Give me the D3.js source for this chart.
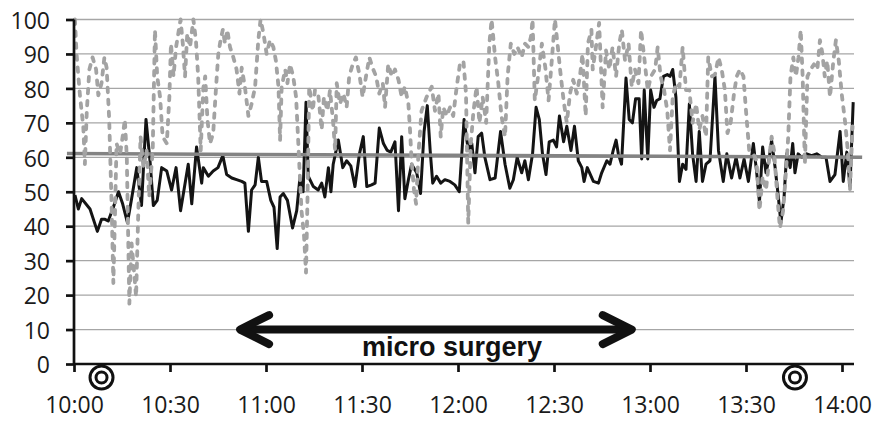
<!DOCTYPE html>
<html>
<head>
<meta charset="utf-8">
<script src="https://cdn.jsdelivr.net/npm/d3@7"></script>
<style>
  body { margin: 0; background: #fff; }
  svg { display: block; font-family: "Open Sans", sans-serif; }
</style>
</head>
<body>
<script>
// minutes after 10:00
const blackTimes = [0.3, 1.35, 2.4, 5, 7.3, 8.6, 9.7, 10.7, 12.3, 13.9, 15.2, 16.7, 18, 19.6, 21.1, 22.5, 23.75, 24.8, 26, 27.4, 29, 30.5, 31.9, 33.3, 35.7, 36.8, 38.3, 39.9,
  40.4, 42, 43.5, 45, 46.5, 47.7, 49.3, 50.8, 52.4, 53.4, 54.5, 55.5, 56.6, 57.6, 58.6, 60.2, 61.5, 62.5, 63.5, 64.4, 65.4, 66.7, 68.3, 69.6, 70.6, 71.6, 72.5, 73.2, 74.8, 76.3, 77.4, 78.4, 79.5,
  80.3, 81, 82.6, 84, 85.2, 86.5, 87.8, 89.2, 90.4, 91.5, 93, 94.1, 95.4, 96.7, 97.9, 99, 100.3, 101.4, 102.4, 103.4, 104.5, 105.5, 107.1, 108.3, 109.4, 110.4, 111.3, 112.1, 113.3, 114.6, 115.9, 117.5, 119, 120.4,
  121.9, 123.2, 124.3, 125.3, 126.3, 127.4, 128.4, 130, 131.6, 133.3, 134.7, 136.2, 137.3, 138.5, 139.9, 140.9, 142, 143.3, 144.4, 145.4, 146.4, 147.5, 148.5, 149.8, 150.8, 151.7, 153, 154, 155.3, 156.4, 157.6, 158.7, 159.4, 160.4,
  162.3, 163.9, 164.9, 166.5, 167.5, 168.5, 169.4, 170.1, 171.1, 172.5, 173.5, 174.5, 175.5, 176.6, 177.4, 178.2, 179.3, 180.2, 181.25, 182.1, 183.1, 184.2, 185.4, 186.25, 187.1, 188.1, 189.2, 190.2, 191.25, 192.3, 193.3, 194.4, 195.4, 196.4, 197.5, 198.75, 200.3, 201.4,
  202.9, 204, 205.5, 206.9, 208.1, 209.4, 210.75, 212.3, 213.3, 214.2, 215.2, 216.25, 217.3, 218, 219.1, 220.1, 220.9, 221.9, 222.7, 223.8, 224.6, 225.3, 226.3, 227.4, 229, 230.5, 232.1, 233.7, 235, 236.25, 237.8, 239.4, 240.4, 241.5, 242.5, 243.5];
const blackValues = [49, 45, 48, 45, 38.5, 42, 42, 41.5, 45.5, 50, 46.5, 41, 48, 57, 46, 71, 59, 46, 47.5, 57, 56, 50.5, 57, 44.5, 58, 46.5, 63, 52.5,
  57, 54.5, 56, 57, 60.5, 55, 54, 53.5, 53, 52.5, 38.5, 50.5, 52, 60, 53, 53, 47.5, 45.5, 33.5, 48.5, 49.5, 47.5, 39.5, 44.5, 54, 50, 76, 54.5, 51.5, 50.5, 52.5, 48.5, 57,
  50, 58, 65, 57, 59, 57.5, 51.5, 61, 66, 51.5, 52, 52.5, 68.5, 64, 62, 61.5, 64.5, 44.5, 66, 48, 53.5, 58, 55.5, 49.5, 67.5, 75, 62, 52.5, 54.5, 52.5, 53.5, 53, 52, 50,
  71, 62, 64, 55.5, 66, 67, 60, 53.5, 54, 67.5, 58, 51, 53.5, 60, 55.5, 59, 53.5, 61, 74.5, 71, 61, 55, 64.5, 65, 63, 72, 64.5, 69, 62, 69, 59, 57, 53, 57,
  53, 52.5, 55.5, 59, 58, 62, 65, 61, 58, 83, 71, 70, 77, 77, 59.5, 79.5, 59.5, 79.5, 74.5, 76.5, 77, 83.5, 84, 83.5, 85.5, 77.5, 53, 58, 56.5, 75.5, 61, 53, 67.5, 53, 58, 59, 83.5, 62,
  53, 61, 54, 60, 54, 59.5, 53, 64, 56, 47, 63, 55.5, 60, 65, 57, 48.5, 41, 48.5, 61, 57, 64, 55.5, 61, 60, 61, 60.5, 61, 60, 60, 53, 55, 67.5, 53, 61.5, 51.5, 76];

const grayTimes = [0.3, 0.8, 1.9, 2.9, 3.4, 4, 4.8, 5.8, 6.9, 7.6, 8.6, 9.5, 10.2, 11, 11.8, 12.3, 12.8, 13.3, 14.4, 15.2, 15.9, 16.5, 17.3, 18, 18.75, 19.4, 20.1, 20.8, 21.7, 22.7, 23.5, 24.6, 25.3, 26, 26.9, 27.7, 29, 29.8, 30.3, 31.1, 31.9, 32.6, 33.3, 34, 34.7, 35.4, 36.25, 37.3, 38.1, 38.8, 39.6,
  40.4, 41, 41.7, 42.5, 43.5, 44.4, 45.1, 45.8, 46.5, 47.2, 47.9, 48.75, 49.8, 50.8, 51.7, 52.4, 53.4, 54.5, 55.5, 56.6, 57.6, 58.3, 59.2, 60.2, 61.25, 62.3, 63.1, 63.9, 64.4, 64.9, 66, 66.7, 67.5, 68.5, 69.4, 70.1, 71.1, 71.9, 72.5, 73, 73.5, 74.6, 75.3, 76.3, 77.4, 78.1, 79.2, 80,
  81, 81.6, 82.1, 83.1, 84.2, 85.2, 86, 87.1, 88.1, 89.2, 90.2, 91.25, 92.3, 93.3, 94.4, 95.4, 96.5, 97.2, 98.2, 99.3, 100.3, 101.4, 102.4, 103.4, 104.5, 105, 105.5, 106.25, 106.9, 107.6, 108.6, 110.2, 111.8, 112.8, 113.9, 114.6, 115.4, 116.5, 117.5, 118.5, 119.6, 120.6,
  121.7, 122.5, 123.2, 124, 124.8, 125.8, 126.7, 127.7, 128.8, 129.8, 130.5, 131.6, 132.6, 133.6, 134.7, 135.5, 136.5, 137.6, 138.6, 139.9, 140.9, 142, 142.8, 143.3, 144, 145.1, 146.2, 147.3, 148.3, 149.3, 150.3, 151.2, 151.9, 153, 154, 155, 156, 157.1, 158.1, 158.9, 159.9, 160.6, 161.7,
  162.1, 163.1, 164.1, 165.2, 166.25, 167.3, 168.3, 169.4, 170.4, 171.2, 172.2, 173.3, 174.3, 175.3, 176.4, 177.2, 178.2, 179.3, 180.3, 181.6, 182.4, 183.3, 184.4, 185.4, 186.25, 187.1, 188.1, 189.2, 190.2, 191.25, 192.3, 193.3, 194.4, 195.4, 196.4, 197.5, 198.2, 199.3, 200.3, 201.4, 202.4,
  203.4, 204.2, 205.2, 206.25, 207.1, 208.1, 209.2, 210, 211, 212.3, 213.3, 214.2, 215.2, 216.25, 217.3, 218, 218.75, 219.8, 220.6, 221.6, 222.5, 223.2, 223.9, 224.8, 225.6, 226.4, 227.1, 227.7, 228.4, 229.2, 230.2, 231.25, 232.3, 233.1, 233.9, 234.6, 235.4, 236.25, 237.3, 238.1, 239, 239.9, 241, 241.8, 242.5, 243.3];
const grayValues = [100, 90, 77.5, 69, 58, 73.5, 85.5, 89, 85.5, 78, 81.5, 89, 86, 71, 44.5, 23.5, 43, 64, 61, 66, 71, 60, 17.5, 35, 27, 19.5, 44.5, 66, 57, 62, 48.5, 62, 97, 83.5, 77.5, 66, 64, 77.5, 93, 83.5, 92, 96, 100, 93, 83.5, 96, 92, 100, 94, 83.5, 62,
  80, 83.5, 71, 64, 67, 80.5, 90, 94, 97, 93, 97, 92, 89, 85.5, 78.5, 86, 80.5, 72, 75.5, 80.5, 94, 100, 96, 90, 94, 92, 88, 80.5, 65, 80.5, 85.5, 81.5, 87, 83.5, 77.5, 64, 44.5, 37, 26.5, 49.5, 80.5, 73.5, 79.5, 78.5, 68, 77.5, 73.5, 79.5,
  70, 62, 81.5, 75.5, 78.5, 74.5, 83.5, 87, 89, 84, 77.5, 83.5, 89, 86, 83.5, 78.5, 81.5, 74.5, 87, 83.5, 85.5, 82.5, 77.5, 80.5, 75.5, 68, 59, 50.5, 46.5, 60.5, 73.5, 77.5, 80.5, 73.5, 78.5, 66, 74.5, 72, 74.5, 72, 80.5, 87,
  88, 78.5, 41, 64, 73, 80.5, 70, 77.5, 70, 93, 100, 89, 81.5, 72, 66, 83.5, 93, 90, 92, 89, 93, 92, 95, 100, 76.5, 84, 93, 86, 76.5, 88, 100, 92, 85.5, 76.5, 70, 78.5, 82.5, 78.5, 83.5, 90, 72, 93, 97,
  85.5, 92, 99, 74.5, 91, 85.5, 92, 83.5, 93, 97, 88, 93, 80.5, 85.5, 81.5, 97, 89, 79.5, 83.5, 85.5, 92, 83.5, 79.5, 73.5, 62, 77.5, 81.5, 80.5, 92, 79.5, 79.5, 70, 75.5, 68, 72, 66, 89, 83.5, 84, 89, 85.5,
  79.5, 67, 70, 78.5, 83.5, 85.5, 83.5, 73.5, 62, 61, 59, 44.5, 54.5, 50.5, 60, 66, 62, 48.5, 39.5, 44.5, 56, 66, 83.5, 89, 83.5, 89, 97, 83.5, 58, 83.5, 85.5, 87, 85.5, 94, 90, 83.5, 88, 77.5, 88, 94, 88, 78.5, 70, 62, 50.5, 69];

const thresholdTimes = [-2.2, 246.3];
const thresholdValues = [61.1, 60.0];

const arrowFrom = 51.9, arrowTo = 174.3, arrowLevel = 10;
const arrowLabel = "micro surgery";
const markerTimes = [8.6, 225.3];

const xTickValues = [0, 30, 60, 90, 120, 150, 180, 210, 240];
const yTickValues = [0, 10, 20, 30, 40, 50, 60, 70, 80, 90, 100];

function fmtTime(m) {
  const h = 10 + Math.floor(m / 60), mm = m % 60;
  return h + ":" + (mm < 10 ? "0" : "") + mm;
}

const W = 876, H = 422;
const margin = {top: 19.5, right: 22, bottom: 58, left: 74};
const width = W - margin.left - margin.right,
  height = H - margin.top - margin.bottom;

const x = d3.scaleLinear().domain([0, 243.75]).range([0, width]);
const y = d3.scaleLinear().domain([0, 100]).range([height, 0]);

const svg = d3.select("body").append("svg")
    .attr("width", W)
    .attr("height", H)
  .append("g")
    .attr("transform", "translate(" + margin.left + "," + margin.top + ")");

// gridlines
svg.append("g")
  .selectAll("line")
  .data(yTickValues.filter(d => d > 0))
  .join("line")
    .attr("x1", 0).attr("x2", width)
    .attr("y1", d => y(d)).attr("y2", d => y(d))
    .attr("stroke", "#a6a6a6")
    .attr("stroke-width", 1.3);

const line = d3.line()
    .x(d => x(d[0]))
    .y(d => y(d[1]));

const blackData = blackTimes.map((t, i) => [t, blackValues[i]]);
const grayData = grayTimes.map((t, i) => [t, grayValues[i]]);
const thrData = thresholdTimes.map((t, i) => [t, thresholdValues[i]]);

svg.append("path")
    .datum(blackData)
    .attr("d", line)
    .attr("fill", "none")
    .attr("stroke", "#141414")
    .attr("stroke-width", 3)
    .attr("stroke-linejoin", "round");

svg.append("path")
    .datum(thrData)
    .attr("d", line)
    .attr("fill", "none")
    .attr("stroke", "#838383")
    .attr("stroke-width", 3.5);

svg.append("path")
    .datum(grayData)
    .attr("d", line)
    .attr("fill", "none")
    .attr("stroke", "#a3a3a3")
    .attr("stroke-width", 3.8)
    .attr("stroke-linecap", "round")
    .attr("stroke-linejoin", "round")
    .attr("stroke-dasharray", "4.5,7.5");

// axes
const yAxis = svg.append("g")
    .call(d3.axisLeft(y).tickValues(yTickValues).tickSize(8).tickPadding(16));
const xAxis = svg.append("g")
    .attr("transform", "translate(0," + height + ")")
    .call(d3.axisBottom(x).tickValues(xTickValues).tickFormat(fmtTime).tickSize(8).tickPadding(25));

[yAxis, xAxis].forEach(a => {
  a.select(".domain").attr("stroke", "#111").attr("stroke-width", 2.7);
  a.selectAll(".tick line").attr("stroke", "#111").attr("stroke-width", 2.7);
  a.selectAll(".tick text")
    .attr("fill", "#1a1a1a")
    .style("font-size", "23px")
    .style("font-family", "'Open Sans', sans-serif");
});
yAxis.select(".domain").attr("d", "M0," + height + "V0");
xAxis.select(".domain").attr("d", "M0,0H" + width);
yAxis.selectAll(".tick text").attr("dy", "0.38em");

// surgery arrow
const ay = y(arrowLevel);
const arrow = svg.append("g")
    .attr("stroke", "#111")
    .attr("stroke-width", 8)
    .attr("stroke-linecap", "round")
    .attr("stroke-linejoin", "round")
    .attr("fill", "none");
arrow.append("line")
    .attr("x1", x(arrowFrom) + 4).attr("x2", x(arrowTo) - 4)
    .attr("y1", ay).attr("y2", ay);
arrow.append("path")
    .attr("d", "M" + (x(arrowFrom) + 29) + "," + (ay - 14.5) + "L" + x(arrowFrom) + "," + ay + "L" + (x(arrowFrom) + 29) + "," + (ay + 14.5));
arrow.append("path")
    .attr("d", "M" + (x(arrowTo) - 29) + "," + (ay - 14.5) + "L" + x(arrowTo) + "," + ay + "L" + (x(arrowTo) - 29) + "," + (ay + 14.5));

svg.append("text")
    .attr("x", (x(arrowFrom) + x(arrowTo)) / 2 + 16)
    .attr("y", ay + 26)
    .attr("text-anchor", "middle")
    .style("font-family", "'Liberation Sans', Arial, sans-serif")
    .style("font-weight", "bold")
    .style("font-size", "27px")
    .attr("fill", "#111")
    .text(arrowLabel);

// double-circle markers below the axis
const mk = svg.append("g")
  .selectAll("g")
  .data(markerTimes)
  .join("g")
    .attr("transform", d => "translate(" + x(d) + "," + (height + 13.5) + ")");
mk.append("circle").attr("r", 11.5).attr("fill", "#fff").attr("stroke", "#111").attr("stroke-width", 3);
mk.append("circle").attr("r", 5.5).attr("fill", "none").attr("stroke", "#111").attr("stroke-width", 3);
</script>
</body>
</html>
